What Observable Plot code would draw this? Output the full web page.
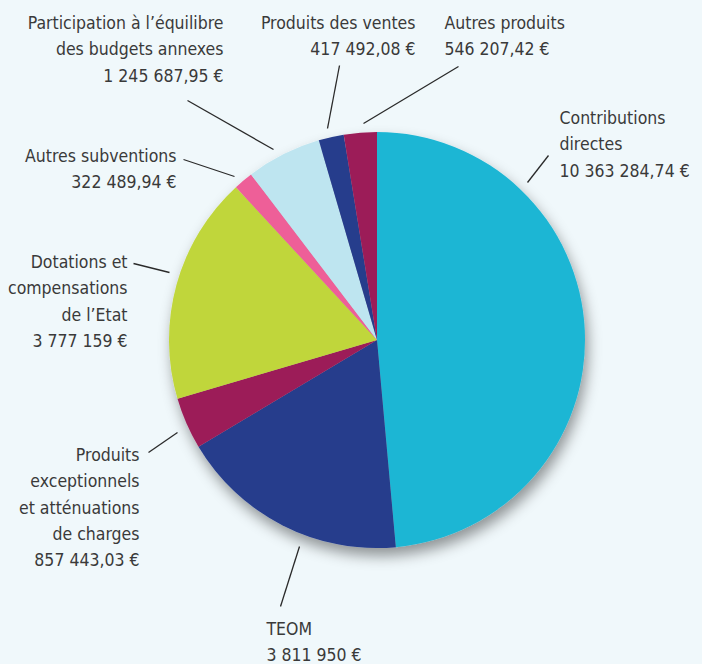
<!DOCTYPE html>
<html>
<head>
<meta charset="utf-8">
<script src="https://cdn.jsdelivr.net/npm/d3@7"></script>
<script src="https://cdn.jsdelivr.net/npm/@observablehq/plot@0.6"></script>
<style>
  html, body { margin: 0; padding: 0; background: #f0f8fb; }
  #chart { width: 702px; height: 664px; }
</style>
</head>
<body>
<div id="chart"></div>
<script>
// ---- data (clockwise from 12 o'clock) ----
const categories = [
  "Contributions\ndirectes",
  "TEOM",
  "Produits\nexceptionnels\net atténuations\nde charges",
  "Dotations et\ncompensations\nde l’Etat",
  "Autres subventions",
  "Participation à l’équilibre\ndes budgets annexes",
  "Produits des ventes",
  "Autres produits"
];
const values = [10363284.74, 3811950, 857443.03, 3777159, 322489.94, 1245687.95, 417492.08, 546207.42];
const colors = ["#1db6d4", "#253c8c", "#9c1c58", "#c0d63a", "#ee5f98", "#bee5f0", "#253c8c", "#9c1c58"];

// ---- layout (label anchors and leader lines, in pixels) ----
const labelX = [559, 266, 139, 127, 176, 223, 415, 444];
const labelY = [105, 616, 442, 249, 143, 10, 10, 10];
const labelAnchor = ["start", "start", "end", "end", "end", "end", "end", "start"];
const leaderFrom = [[548,155],[280,606],[148,452],[133,263],[183,159],[187,100],[339,65],[458,66]];
const leaderTo   = [[527,182],[299,546],[177,432],[169,272],[234,176],[273,149],[327,128],[363,123]];
const pieCenter = [377, 340];
const pieRadius = 208;

const fr = d3.formatLocale({decimal: ",", thousands: " ", grouping: [3], currency: ["", " €"]});
const fmtInt = fr.format(",.0f"), fmtDec = fr.format(",.2f");
const fmtEuro = v => (Number.isInteger(v) ? fmtInt(v) : fmtDec(v)) + " €";

const rows = categories.map((c, i) => ({
  name: c, value: values[i], color: colors[i],
  label: c + "\n" + fmtEuro(values[i]),
  lx: labelX[i], ly: labelY[i], anchor: labelAnchor[i],
  x1: leaderFrom[i][0], y1: leaderFrom[i][1], x2: leaderTo[i][0], y2: leaderTo[i][1]
}));

const pieMark = (index, scales, vals, dims, context) => {
  const g = d3.create("svg:g");
  const cx = scales.x(pieCenter[0]), cy = scales.y(pieCenter[1]);
  const r = scales.x(pieCenter[0] + pieRadius) - cx;
  const defs = g.append("defs");
  const f = defs.append("filter").attr("id", "pieShadow")
    .attr("x", "-20%").attr("y", "-20%").attr("width", "140%").attr("height", "140%");
  f.append("feDropShadow").attr("dx", 3).attr("dy", 8).attr("stdDeviation", 7)
    .attr("flood-color", "#000").attr("flood-opacity", 0.4);
  const arcs = d3.pie().sort(null).value(d => d.value)(rows);
  const arc = d3.arc().innerRadius(0).outerRadius(r);
  const pg = g.append("g").attr("transform", `translate(${cx},${cy})`).attr("filter", "url(#pieShadow)");
  pg.selectAll("path").data(arcs).join("path")
    .attr("d", arc).attr("fill", d => d.data.color);
  return g.node();
};

const fontFamily = "'Liberation Sans Narrow', 'DejaVu Sans Condensed', 'Roboto', sans-serif";

const chart = Plot.plot({
  width: 702, height: 664,
  margin: 0,
  x: {domain: [0, 702], range: [0, 702], axis: null},
  y: {domain: [0, 664], range: [0, 664], axis: null},
  style: {background: "#f0f8fb", fontFamily, overflow: "visible"},
  marks: [
    pieMark,
    Plot.link(rows, {x1: "x1", y1: "y1", x2: "x2", y2: "y2", stroke: "#2a2a2a", strokeWidth: 1.3}),
    Plot.text(rows.filter(d => d.anchor === "start"), {
      x: "lx", y: "ly", text: "label", textAnchor: "start", lineAnchor: "top",
      lineHeight: 1.5, fontSize: 17.5, fill: "#3a3a3a"
    }),
    Plot.text(rows.filter(d => d.anchor === "end"), {
      x: "lx", y: "ly", text: "label", textAnchor: "end", lineAnchor: "top",
      lineHeight: 1.5, fontSize: 17.5, fill: "#3a3a3a"
    })
  ]
});
document.getElementById("chart").appendChild(chart);
</script>
</body>
</html>
